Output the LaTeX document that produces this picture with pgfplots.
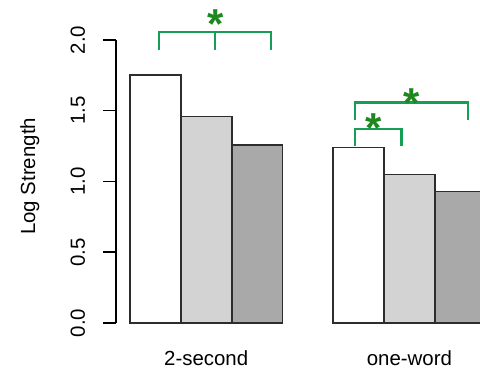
\documentclass[border=0pt]{standalone}
\usepackage{pgfplots}
\pgfplotsset{compat=1.18}
\usepackage{fontspec}
\setmainfont{Liberation Sans}
\definecolor{brk}{RGB}{22,158,84}
\definecolor{stargreen}{RGB}{30,135,30}
\definecolor{barline}{RGB}{45,45,45}
\definecolor{lgray}{RGB}{211,211,211}
\definecolor{dgray}{RGB}{169,169,169}
\begin{document}
\begin{tikzpicture}[font=\fontsize{20.5}{24}\selectfont]
\useasboundingbox (0,0) rectangle (480bp,372bp);
\clip (0,0) rectangle (480bp,372bp);
\begin{axis}[
  at={(116bp,49bp)}, anchor=south west,
  scale only axis, width=364bp, height=283bp,
  xmin=-0.276, xmax=6.89, ymin=0, ymax=2,
  clip=false,
  axis x line*=bottom, axis y line*=left,
  x axis line style={draw=none},
  y axis line style={-, line width=1.5bp, black},
  xtick={1.5,5.5}, xticklabels={2-second,one-word},
  xtick style={draw=none},
  xticklabel style={anchor=base, yshift=-29bp},
  ytick={0,0.5,1,1.5,2},
  yticklabels={0.0,0.5,1.0,1.5,2.0},
  ytick style={line width=1.5bp, black},
  tick align=outside, major tick length=13bp,
  yticklabel style={xshift=-18bp, rotate=90, anchor=base},
  ylabel={Log Strength},
  every axis y label/.style={at={(axis description cs:-0.2225,0.518)}, rotate=90, anchor=base},
  ybar, bar width=1, bar shift=0pt,
]
\addplot[draw=barline, line width=1.8bp, fill=white] coordinates {(0.5,1.75) (4.5,1.24)};
\addplot[draw=barline, line width=1.8bp, fill=lgray] coordinates {(1.5,1.46) (5.5,1.05)};
\addplot[draw=barline, line width=1.8bp, fill=dgray] coordinates {(2.5,1.26) (6.5,0.93)};
% significance brackets
\draw[brk, line width=2.6bp] (axis cs:0.571,1.929) -- (axis cs:0.571,2.057) -- (axis cs:2.776,2.057) -- (axis cs:2.776,1.929);
\draw[brk, line width=2.6bp] (axis cs:1.673,2.057) -- (axis cs:1.673,1.929);
\draw[brk, line width=2.6bp] (axis cs:4.43,1.435) -- (axis cs:4.43,1.56) -- (axis cs:6.65,1.56) -- (axis cs:6.65,1.435);
\draw[brk, line width=2.6bp] (axis cs:4.43,1.25) -- (axis cs:4.43,1.37) -- (axis cs:5.35,1.37) -- (axis cs:5.35,1.25);
\node[stargreen, anchor=north, inner sep=0pt, font=\fontsize{42}{42}\selectfont\bfseries] at (axis cs:1.69,2.212) {*};
\node[stargreen, anchor=north, inner sep=0pt, font=\fontsize{42}{42}\selectfont\bfseries] at (axis cs:5.545,1.66) {*};
\node[stargreen, anchor=north, inner sep=0pt, font=\fontsize{42}{42}\selectfont\bfseries] at (axis cs:4.80,1.477) {*};
\end{axis}
\end{tikzpicture}
\end{document}
